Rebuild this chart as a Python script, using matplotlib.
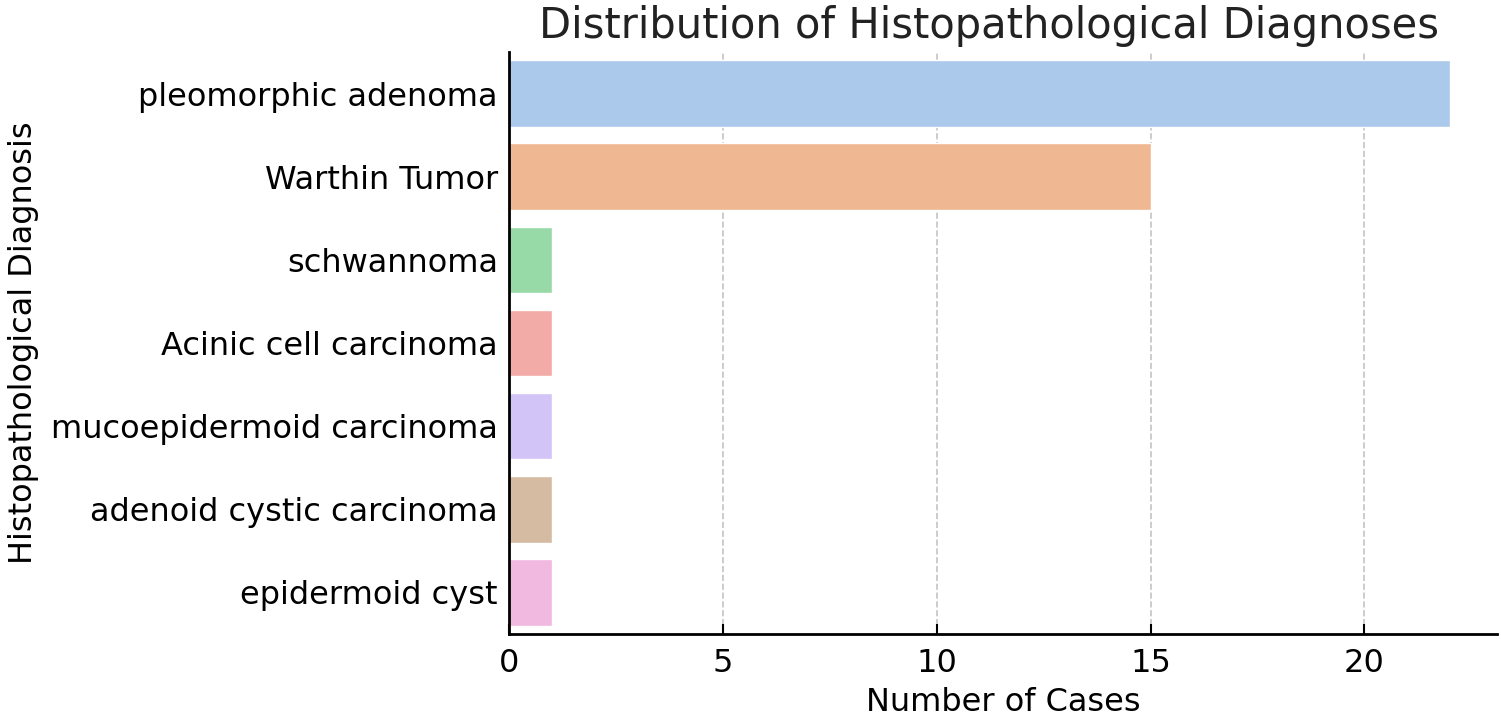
import matplotlib
matplotlib.use("Agg")
import matplotlib.pyplot as plt
import seaborn as sns

diagnoses = ["pleomorphic adenoma", "Warthin Tumor", "schwannoma", "Acinic cell carcinoma",
             "mucoepidermoid carcinoma", "adenoid cystic carcinoma", "epidermoid cyst"]
cases = [22, 15, 1, 1, 1, 1, 1]

sns.set_style("ticks")
plt.rcParams['font.family'] = ['DejaVu Sans']

fig = plt.figure(figsize=(15.01, 7.17), dpi=100)
ax = fig.add_axes([509 / 1501, 1 - 634 / 717, (1497 - 509) / 1501, (634 - 52) / 717])

sns.barplot(x=cases, y=diagnoses, hue=diagnoses, palette="pastel", legend=False, ax=ax)
ax.grid(axis="x", linestyle="--", color="#c4c4c4", linewidth=1.2)
ax.set_axisbelow(True)
sns.despine(ax=ax)
ax.spines["left"].set_linewidth(2)
ax.spines["bottom"].set_linewidth(2)
ax.spines["left"].set_color("black")
ax.spines["bottom"].set_color("black")

ax.set_title("Distribution of Histopathological Diagnoses", fontsize=30, color="#222222", pad=10, x=0.486)
ax.set_xlabel("Number of Cases", fontsize=23, color="black", labelpad=6)
ax.set_ylabel("Histopathological Diagnosis", fontsize=23, color="black", labelpad=9)
ax.tick_params(axis="x", labelsize=23, colors="black", width=1.5, length=7, direction="in", pad=10)
ax.tick_params(axis="y", labelsize=23, colors="black", width=1.5, length=7, direction="in", pad=8)

fig.savefig("out.png", dpi=100)
